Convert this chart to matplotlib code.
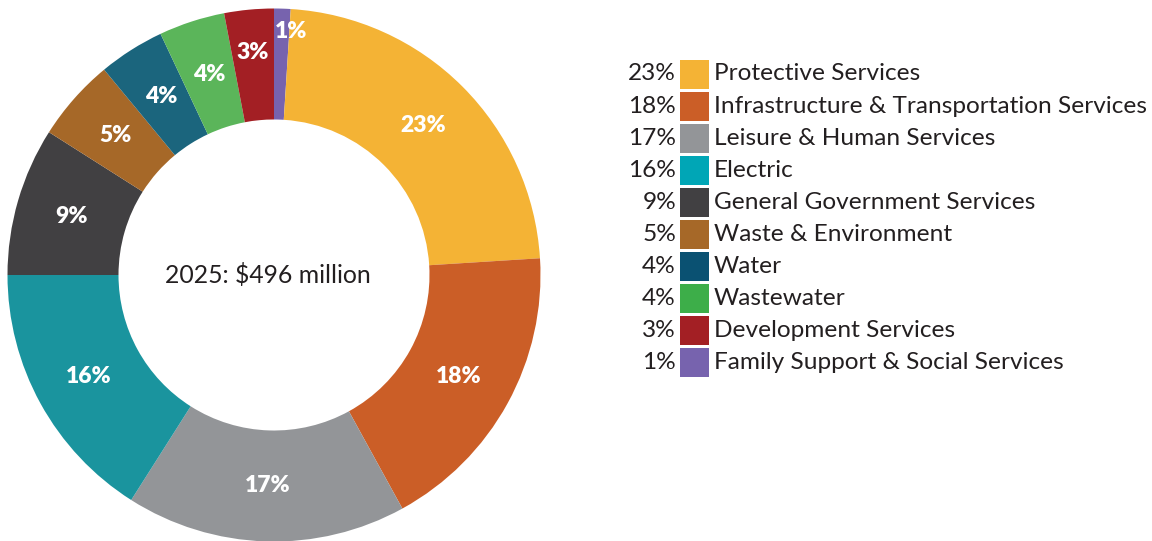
import matplotlib
matplotlib.use("Agg")
import matplotlib.pyplot as plt
import numpy as np

# Data (clockwise from 12 o'clock as drawn)
categories = ["Family Support & Social Services", "Protective Services",
              "Infrastructure & Transportation Services", "Leisure & Human Services",
              "Electric", "General Government Services", "Waste & Environment",
              "Water", "Wastewater", "Development Services"]
values = [1, 23, 18, 17, 16, 9, 5, 4, 4, 3]
slice_colors = ["#7763AE", "#F4B335", "#CB5E27", "#939598", "#1A949E",
                "#414042", "#A66828", "#1B657D", "#5BB55A", "#A31F24"]

# Legend order
legend_categories = ["Protective Services", "Infrastructure & Transportation Services",
                     "Leisure & Human Services", "Electric", "General Government Services",
                     "Waste & Environment", "Water", "Wastewater", "Development Services",
                     "Family Support & Social Services"]
legend_values = [23, 18, 17, 16, 9, 5, 4, 4, 3, 1]
legend_colors = ["#F4B335", "#CB5E27", "#939598", "#00A6B6", "#414042",
                 "#A66828", "#0A5172", "#3DAE49", "#A31F24", "#7763AE"]

center_text = "2025: $496 million"

plt.rcParams['font.family'] = ['Lato', 'DejaVu Sans']

W, H = 1152, 541
fig = plt.figure(figsize=(W / 100, H / 100), dpi=100)
ax = fig.add_axes([0, 0, 1, 1])

cx, cy = 274, H - 275
R, r_in = 266.5, 155.5
wedges, _ = ax.pie(values, colors=slice_colors, startangle=90, counterclock=False,
                   center=(cx, cy), radius=R,
                   wedgeprops=dict(width=R - r_in, linewidth=0))

# Percentage labels
total = sum(values)
cum = 0
for v in values:
    mid = 90 - (cum + v / 2) / total * 360
    cum += v
    rr = (R + r_in) / 2
    ang = np.deg2rad(mid)
    x, y = cx + rr * np.cos(ang), cy + rr * np.sin(ang)
    if v == 1:
        x, y = cx + 17, cy + 244
    elif v == 3:
        rr = 223
        x, y = cx + rr * np.cos(ang), cy + rr * np.sin(ang)
    ax.text(x, y, f"{v}%", ha="center", va="center", color="white",
            fontsize=16.5, fontweight="heavy")

ax.text(cx - 6, cy, center_text, ha="center", va="center", fontsize=17.8, color="#231F20")

# Legend
row0 = H - 74
step = 32.1
for i, (lab, v, c) in enumerate(zip(legend_categories, legend_values, legend_colors)):
    y = row0 - i * step
    ax.text(676, y, f"{v}%", ha="right", va="center", fontsize=17.6, color="#231F20")
    ax.add_patch(plt.Rectangle((680, y - 14.5), 29, 29, color=c, linewidth=0))
    ax.text(714, y, lab, ha="left", va="center", fontsize=17.6, color="#231F20")

ax.set_xlim(0, W)
ax.set_ylim(0, H)
ax.set_aspect("auto")
ax.axis("off")

fig.savefig("out.png", dpi=100, facecolor="white")
